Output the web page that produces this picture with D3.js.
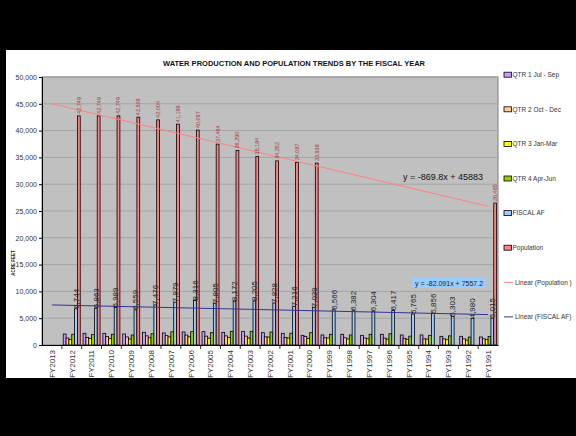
<!DOCTYPE html>
<html>
<head>
<meta charset="utf-8">
<script src="https://cdn.jsdelivr.net/npm/d3@7/dist/d3.min.js"></script>
<style>
  html, body { margin: 0; padding: 0; background: #000; }
  svg { display: block; }
  text { font-family: "Liberation Sans", Arial, sans-serif; }
</style>
</head>
<body>
<svg id="chart" width="576" height="436"></svg>
<script>
// Fiscal years, newest first
const years = ["FY2013","FY2012","FY2011","FY2010","FY2009","FY2008","FY2007","FY2006","FY2005","FY2004","FY2003","FY2002","FY2001","FY2000","FY1999","FY1998","FY1997","FY1996","FY1995","FY1994","FY1993","FY1992","FY1991"];

// Quarterly water production (acre feet)
const qtr1 = [null,2050,2180,2180,2060,2370,2240,2430,2500,2360,2550,2300,2180,1800,1870,2000,1800,2000,1870,1870,1620,1620,1490];
const qtr2 = [null,1300,1400,1600,1500,1700,1750,1850,1650,1700,1650,1520,1420,1600,1350,1350,1300,1280,1250,1150,1150,1150,1150];
const qtr3 = [null,1050,1230,1180,1120,1350,1520,1530,1280,1420,1300,1470,1300,1230,1300,1120,1170,1100,1070,1100,980,900,1020];
const qtr4 = [null,2000,1930,2000,1870,2100,2460,2490,2300,2550,2550,2420,2200,2300,2000,1870,2000,2100,1650,1800,1700,1480,1600];
// Fiscal year totals (acre feet)
const fiscalAF = [null,6744,6863,6989,6559,7476,7979,8316,7805,8172,8205,7828,7216,7039,6566,6382,6304,6417,5765,5856,5303,4980,5015];
// Population
const population = [null,42749,42749,42749,42508,42004,41199,40097,37484,36290,35184,34352,34087,33938,null,null,null,null,null,null,null,null,26485];

// Linear trend coefficients [slope, intercept], x = 1..n
const popTrend = [-869.8, 45883];
const fiscalTrend = [-82.091, 7557.2];

const yTicks = [0,5000,10000,15000,20000,25000,30000,35000,40000,45000,50000];

const seriesNames = ["QTR 1  Jul - Sep","QTR 2  Oct - Dec","QTR 3   Jan-Mar","QTR 4   Apr-Jun","FISCAL AF","Population"];
const seriesValues = [qtr1, qtr2, qtr3, qtr4, fiscalAF, population];
const seriesColors = ["#cc99ff","#ffcc99","#ffff00","#99cc00","#99ccff","#ff8080"];

const svg = d3.select("#chart");
const fmt = d3.format(",");

// page background
svg.append("rect").attr("x",6).attr("y",50).attr("width",570).attr("height",328).attr("fill","#fff");

const plot = {left:42, top:77, right:498, bottom:345};

const x = d3.scaleBand().domain(years).range([plot.left, plot.right]).padding(0);
const xs = d3.scaleBand().domain(d3.range(seriesNames.length)).range([0, x.bandwidth()]).paddingInner(0).paddingOuter(0.5);
const y = d3.scaleLinear().domain([0,50000]).range([plot.bottom, plot.top]);
const xIdx = d3.scaleLinear().domain([1, years.length]).range([x(years[0]) + x.bandwidth()/2, x(years[years.length-1]) + x.bandwidth()/2]);

// title
svg.append("text").attr("x",294).attr("y",66).attr("text-anchor","middle")
  .attr("font-size","7.5px").attr("font-weight","bold").attr("fill","#111")
  .text("WATER PRODUCTION AND POPULATION TRENDS BY THE FISCAL YEAR");

// plot area
svg.append("rect").attr("x",plot.left).attr("y",plot.top)
  .attr("width",plot.right-plot.left).attr("height",plot.bottom-plot.top)
  .attr("fill","#c0c0c0").attr("stroke","#808080").attr("stroke-width",1);

// gridlines
svg.append("g").selectAll("line").data(yTicks.filter(d => d > 0)).join("line")
  .attr("x1",plot.left).attr("x2",plot.right)
  .attr("y1",d => y(d)).attr("y2",d => y(d))
  .attr("stroke","#a4a4a4").attr("stroke-width",1);

// bars
const groups = svg.append("g").selectAll("g").data(years).join("g")
  .attr("transform", d => `translate(${x(d)},0)`);

groups.each(function(yr, i) {
  const g = d3.select(this);
  seriesValues.forEach((vals, s) => {
    const v = vals[i];
    if (v == null) return;
    g.append("rect")
      .attr("x", xs(s)).attr("width", xs.bandwidth())
      .attr("y", y(v)).attr("height", y(0) - y(v))
      .attr("fill", seriesColors[s]).attr("stroke","#000").attr("stroke-width",0.8);
  });
});

// trend lines
function trendLine(coef, color) {
  svg.append("line")
    .attr("x1", xIdx(1)).attr("y1", y(coef[0]*1 + coef[1]))
    .attr("x2", xIdx(years.length)).attr("y2", y(coef[0]*years.length + coef[1]))
    .attr("stroke", color).attr("stroke-width", 1);
}
trendLine(popTrend, "#ff8080");
trendLine(fiscalTrend, "#333399");

// value labels
years.forEach((yr, i) => {
  const f = fiscalAF[i];
  if (f != null) {
    const cx = x(yr) + xs(4) + xs.bandwidth()/2;
    svg.append("text")
      .attr("transform", `translate(${cx},${y(f)}) rotate(-90)`)
      .attr("dy","0.35em").attr("font-size","8px").attr("fill","#222")
      .text(fmt(f));
  }
  const p = population[i];
  if (p != null) {
    const cx = x(yr) + xs(5) + xs.bandwidth()/2;
    svg.append("text")
      .attr("transform", `translate(${cx},${y(p) - 2}) rotate(-90)`)
      .attr("dy","0.35em").attr("font-size","5.5px").attr("fill","#a03c3c")
      .text(fmt(p));
  }
});

// trend equations
svg.append("text").attr("x",443).attr("y",180).attr("text-anchor","middle")
  .attr("font-size","9px").attr("fill","#111")
  .text(`y = ${popTrend[0]}x + ${popTrend[1]}`);
svg.append("rect").attr("x",412).attr("y",277.5).attr("width",74).attr("height",10.5).attr("fill","#99ccff");
svg.append("text").attr("x",449).attr("y",285.5).attr("text-anchor","middle")
  .attr("font-size","7px").attr("fill","#222")
  .text(`y = ${fiscalTrend[0]}x + ${fiscalTrend[1]}`);

// y axis
const yAxis = d3.axisLeft(y).tickValues(yTicks).tickFormat(fmt).tickSize(3).tickPadding(2);
const ya = svg.append("g").attr("transform",`translate(${plot.left},0)`).call(yAxis);
ya.select(".domain").attr("stroke","#000");
ya.selectAll(".tick line").attr("stroke","#000");
ya.selectAll("text").attr("font-size","7px").attr("fill","#333").attr("font-family","Liberation Sans, Arial, sans-serif");

// x axis
const xAxis = d3.axisBottom(x).tickSize(0).tickFormat(d => d);
const xa = svg.append("g").attr("transform",`translate(0,${plot.bottom})`).call(xAxis);
xa.select(".domain").attr("stroke","#000");
xa.selectAll("text")
  .attr("transform","rotate(-90)").attr("text-anchor","end")
  .attr("x",-5).attr("y",0).attr("dy","0.35em")
  .attr("font-size","8px").attr("fill","#333").attr("font-family","Liberation Sans, Arial, sans-serif");
// category separators
svg.append("g").selectAll("line").data(years.slice(1)).join("line")
  .attr("x1", d => x(d)).attr("x2", d => x(d))
  .attr("y1", plot.bottom).attr("y2", plot.bottom + 4)
  .attr("stroke","#000").attr("stroke-width",0.8);

// axis title
svg.append("text").attr("transform","translate(13,263) rotate(-90)")
  .attr("text-anchor","middle").attr("dy","0.35em")
  .attr("font-size","4.5px").attr("font-weight","bold").attr("fill","#222")
  .text("ACRE FEET");

// legend
const legendItems = seriesNames.map((n, i) => ({name:n, color:seriesColors[i], type:"box"}))
  .concat([{name:"Linear (Population )", color:"#ff8080", type:"line"},
           {name:"Linear (FISCAL AF)", color:"#333399", type:"line"}]);
const lg = svg.append("g").selectAll("g").data(legendItems).join("g")
  .attr("transform", (d, i) => `translate(504,${74.7 + i*34.6})`);
lg.filter(d => d.type === "box").append("rect")
  .attr("x",0).attr("y",-2.5).attr("width",7.5).attr("height",5)
  .attr("fill", d => d.color).attr("stroke","#000").attr("stroke-width",0.8);
lg.filter(d => d.type === "line").append("line")
  .attr("x1",0).attr("x2",9).attr("y1",0).attr("y2",0)
  .attr("stroke", d => d.color).attr("stroke-width",1);
lg.append("text").attr("x", d => d.type === "box" ? 8.5 : 11).attr("y",0).attr("dy","0.35em")
  .attr("font-size","6.5px").attr("fill","#333")
  .text(d => d.name);
</script>
</body>
</html>
